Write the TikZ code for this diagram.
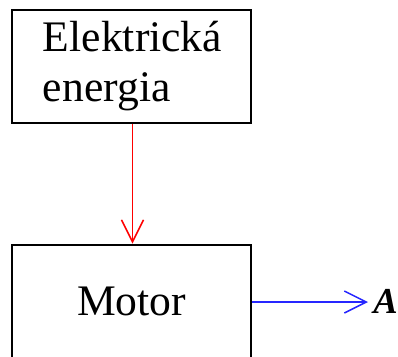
\documentclass[tikz,border=0pt]{standalone}
\usepackage{fontspec}
\setmainfont{Liberation Serif}
\newfontfamily\pismo{Liberation Serif}
\usetikzlibrary{arrows.meta}

\begin{document}
\begin{tikzpicture}[x=0.025cm,y=-0.025cm,
  blok/.style={draw,line width=2pt,minimum width=5.975cm,minimum height=2.825cm,
    font=\pismo\fontsize{31}{35.6}\selectfont},
  sipka/.style={line width=1.1pt,-{Straight Barb[length=0.55cm,width=0.55cm]}}]
\useasboundingbox (0,0) rectangle (398,356);
\clip (0,0) rectangle (398,356);
\node[blok,align=left,text width=4.425cm,inner xsep=0.775cm] (energie) at (131.5,66.5)
  {Elektrická\\energia};
\node[blok] (motor) at (131.5,301.5) {Motor};
\coordinate (vstup) at (132.5,0);
\coordinate (vystup) at (368,302);
\draw[sipka,red] (energie.south -| vstup) -- (motor.north -| vstup);
\draw[sipka,blue!85!white] (motor.east |- vystup) -- (vystup);
\node[anchor=base west,inner sep=0,font=\pismo\fontsize{26}{30}\selectfont\bfseries\itshape]
  (prace) at (373,313) {A};
\end{tikzpicture}
\end{document}
